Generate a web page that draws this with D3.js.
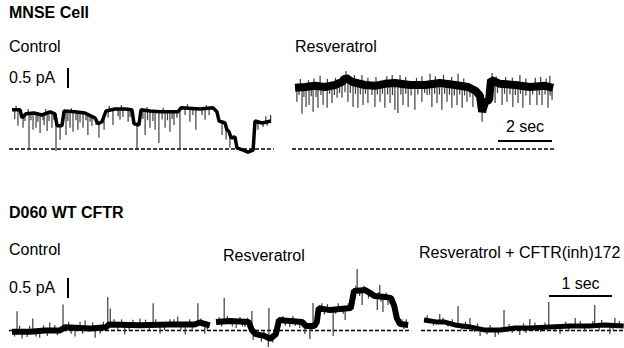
<!DOCTYPE html>
<html>
<head>
<meta charset="utf-8">
<script src="https://cdn.jsdelivr.net/npm/d3@7"></script>
<style>
  body { margin: 0; background: #fff; }
  text { font-family: "Liberation Sans", Arial, sans-serif; font-size: 16px; fill: #000; }
</style>
</head>
<body>
<div id="chart-area"></div>
<script>
// labels
const panelTitles = ["MNSE Cell", "D060 WT CFTR"];
const mnseConditions = ["Control", "Resveratrol"];
const d060Conditions = ["Control", "Resveratrol", "Resveratrol + CFTR(inh)172"];
const currentBarLabel = "0.5 pA";
const currentBarValue = 0.5;          // pA
const timeBarLabels = ["2 sec", "1 sec"];
const timeBarValues = [2, 1];         // s

// traces: [time (s), current (pA)] for the level, events are the brief excursions
const mnseControlLevels = [
  [0, 0.98], [0.30, 0.98], [0.37, 0.78], [0.52, 0.88], [0.81, 0.90], [1.11, 0.85],
  [1.41, 0.93], [1.59, 0.88], [1.67, 0.58], [1.85, 0.58], [1.93, 0.95], [2.33, 0.93],
  [2.70, 0.90], [3.07, 0.78], [3.19, 0.63], [3.33, 0.68], [3.48, 0.95], [3.81, 1.00],
  [4.19, 1.00], [4.44, 0.98], [4.52, 0.63], [4.70, 0.60], [4.78, 0.98], [5.11, 0.95],
  [5.48, 0.93], [5.85, 0.93], [6.15, 0.93], [6.26, 1.03], [6.96, 1.00], [7.44, 1.03],
  [7.59, 0.93], [7.67, 0.70], [7.89, 0.65], [7.96, 0.48], [8.04, 0.43], [8.11, 0.28],
  [8.26, 0.30], [8.33, 0.03], [8.56, -0.03], [8.74, -0.08], [8.93, -0.03], [9.00, 0.70],
  [9.26, 0.65], [9.59, 0.70]
];
const mnseControlEvents = [
  [0.22, 0.58], [0.41, 0.53], [0.63, -0.03], [0.78, 0.48], [0.89, 0.53], [1.04, 0.40],
  [1.19, 0.60], [1.30, 0.45], [1.48, 0.53], [1.63, -0.05], [1.78, 0.23], [2.00, 0.35],
  [2.15, 0.53], [2.26, 0.43], [2.44, 0.48], [2.63, 0.53], [2.81, 0.35], [2.96, 0.58],
  [3.22, 0.28], [3.41, 0.48], [3.74, 0.60], [4.00, 0.73], [4.30, 0.68], [4.63, -0.03],
  [4.93, 0.35], [5.11, 0.53], [5.30, 0.48], [5.44, 0.15], [5.67, 0.53], [5.85, 0.43],
  [6.00, 0.60], [6.22, -0.03], [6.59, 0.68], [6.81, 0.48], [7.15, 0.73], [7.78, 0.35],
  [7.93, 0.23], [8.07, 0.03], [9.11, 0.48],
  [0.10, 0.75], [0.48, 0.70], [0.70, 0.72], [0.96, 0.68], [1.15, 0.72], [1.37, 0.70],
  [1.55, 0.73], [1.89, 0.62], [2.07, 0.70], [2.37, 0.72], [2.52, 0.66], [2.74, 0.72],
  [2.89, 0.68], [3.11, 0.60], [3.56, 0.78], [3.93, 0.82], [4.11, 0.80], [4.37, 0.80],
  [4.85, 0.75], [5.02, 0.72], [5.22, 0.70], [5.56, 0.74], [5.76, 0.72], [5.93, 0.75],
  [6.11, 0.78], [6.41, 0.85], [6.70, 0.85], [7.04, 0.85], [7.30, 0.85], [9.30, 0.55],
  [9.45, 0.58],
  [0.15, 1.08], [0.60, 1.00], [1.25, 1.00], [2.20, 1.02], [3.60, 1.08], [4.05, 1.10],
  [5.00, 1.05], [5.60, 1.03], [6.50, 1.12], [7.20, 1.10], [9.40, 0.82], [9.58, 0.85]
];

const mnseResvLevels = [
  [0, 1.53], [0.37, 1.55], [0.74, 1.58], [1.11, 1.55], [1.48, 1.60], [1.74, 1.68],
  [1.89, 1.78], [2.11, 1.68], [2.59, 1.60], [2.96, 1.58], [3.33, 1.63], [3.70, 1.65],
  [4.26, 1.60], [4.81, 1.60], [5.37, 1.65], [5.93, 1.60], [6.41, 1.55], [6.70, 1.45],
  [6.85, 1.33], [6.93, 0.93], [7.04, 1.18], [7.19, 1.23], [7.26, 1.73], [7.59, 1.63],
  [8.15, 1.60], [8.70, 1.55], [9.26, 1.58], [9.56, 1.53]
];
const mnseResvEvents = [
  [0.07, 1.18], [0.26, 0.88], [0.41, 1.05], [0.52, 1.10], [0.67, 0.93], [0.85, 1.03],
  [1.04, 1.10], [1.19, 1.03], [1.37, 1.15], [1.56, 1.28], [1.74, 1.28], [1.96, 1.18],
  [2.15, 1.05], [2.33, 1.03], [2.52, 1.10], [2.70, 1.15], [2.96, 1.05], [3.15, 1.18],
  [3.33, 1.03], [3.52, 1.15], [3.70, 0.98], [3.81, 0.90], [4.00, 1.10], [4.19, 1.05],
  [4.44, 0.98], [4.70, 1.18], [4.89, 1.35], [5.07, 1.05], [5.26, 1.15], [5.44, 0.98],
  [5.63, 1.18], [5.81, 1.03], [6.00, 1.10], [6.19, 1.03], [6.37, 1.18], [6.59, 1.05],
  [6.93, 0.68], [7.41, 1.15], [7.67, 1.10], [7.85, 1.18], [8.07, 1.05], [8.26, 1.15],
  [8.44, 1.03], [8.70, 1.10], [8.96, 1.10], [9.15, 1.10], [9.37, 1.03], [9.52, 1.23],
  [0.93, 1.83], [1.89, 1.95], [2.48, 1.85], [3.89, 1.85], [5.00, 1.88], [6.04, 1.88],
  [7.30, 1.90], [8.33, 1.85], [9.44, 1.83],
  [0.15, 1.35], [0.33, 1.30], [0.60, 1.32], [0.78, 1.30], [0.96, 1.35], [1.28, 1.38],
  [1.46, 1.35], [1.65, 1.40], [1.85, 1.42], [2.05, 1.40], [2.24, 1.38], [2.42, 1.36],
  [2.61, 1.38], [2.85, 1.35], [3.05, 1.36], [3.24, 1.38], [3.43, 1.36], [3.61, 1.35],
  [3.92, 1.36], [4.10, 1.38], [4.30, 1.34], [4.55, 1.36], [4.80, 1.40], [4.98, 1.36],
  [5.17, 1.38], [5.35, 1.36], [5.54, 1.38], [5.72, 1.36], [5.90, 1.34], [6.10, 1.36],
  [6.28, 1.34], [6.48, 1.30], [7.50, 1.40], [7.76, 1.38], [7.96, 1.36], [8.16, 1.35],
  [8.35, 1.38], [8.55, 1.34], [8.80, 1.36], [9.05, 1.35], [9.26, 1.36], [9.45, 1.34],
  [0.20, 1.75], [0.50, 1.72], [0.70, 1.76], [1.20, 1.75], [1.50, 1.78], [1.70, 1.82],
  [2.20, 1.85], [2.70, 1.78], [3.00, 1.80], [3.40, 1.82], [3.60, 1.85], [4.10, 1.80],
  [4.50, 1.78], [4.70, 1.82], [5.20, 1.82], [5.50, 1.85], [5.80, 1.80], [6.25, 1.76],
  [7.45, 1.82], [7.80, 1.80], [8.05, 1.78], [8.55, 1.76], [8.90, 1.78], [9.10, 1.80],
  [9.30, 1.76]
];

const d060ControlLevels = [
  [0, -0.03], [0.29, -0.03], [0.52, 0.00], [0.76, 0.00], [0.84, 0.08], [1.24, 0.05],
  [1.49, 0.08], [1.54, 0.15], [2.03, 0.13], [2.51, 0.15], [2.90, 0.15], [2.98, 0.20],
  [3.14, 0.13]
];
const d060ControlEvents = [
  [0.08, 0.48], [0.33, 0.30], [0.81, 0.65], [1.52, 0.83], [1.56, 0.55], [2.24, 0.68],
  [2.63, 0.35], [2.95, 0.68],
  [0.16, -0.20], [0.44, -0.18], [1.00, -0.15], [1.32, -0.18], [1.79, -0.10], [2.35, -0.08],
  [2.75, -0.10], [3.06, -0.08], [0.60, 0.20], [1.16, 0.25], [2.03, 0.30], [2.51, 0.28],
  [0.04, -0.15], [0.12, 0.12], [0.24, -0.16], [0.28, 0.12], [0.38, -0.15], [0.50, 0.13],
  [0.56, -0.14], [0.68, 0.14], [0.72, -0.12], [0.90, 0.22], [0.94, -0.08], [1.08, 0.22],
  [1.12, -0.08], [1.28, 0.20], [1.40, -0.08], [1.45, 0.22], [1.62, 0.28], [1.68, 0.00],
  [1.74, 0.28], [1.86, 0.00], [1.92, 0.27], [2.12, 0.27], [2.18, 0.01], [2.28, 0.28],
  [2.42, 0.01], [2.57, 0.28], [2.68, 0.02], [2.82, 0.28], [2.86, 0.02], [3.00, 0.30],
  [3.10, 0.02]
];

const d060ResvLevels = [
  [0, 0.21], [0.22, 0.24], [0.52, 0.21], [0.57, 0.01], [0.63, -0.09], [0.78, -0.14],
  [0.86, -0.21], [0.95, -0.09], [1.00, 0.26], [1.17, 0.24], [1.37, 0.21], [1.43, 0.11],
  [1.56, 0.11], [1.60, 0.21], [1.63, 0.56], [1.81, 0.51], [1.97, 0.54], [2.14, 0.56],
  [2.19, 0.99], [2.37, 1.01], [2.52, 0.86], [2.68, 0.84], [2.78, 0.81], [2.83, 0.61],
  [2.87, 0.31], [2.92, 0.16], [3.05, 0.14]
];
const d060ResvEvents = [
  [0.13, 0.81], [0.57, 0.49], [0.84, 0.56], [1.54, 0.69], [2.24, 1.54], [2.60, 1.14],
  [2.84, 0.66], [0.59, -0.24], [0.83, -0.41], [1.41, -0.09], [1.49, -0.21], [1.86, -0.14],
  [2.32, 0.64], [2.56, 0.51], [2.65, 0.46], [2.73, 0.64], [0.32, 0.06], [0.46, 0.09],
  [1.17, 0.09], [1.33, 0.06], [2.05, 0.26],
  [0.05, 0.33], [0.09, 0.10], [0.18, 0.36], [0.26, 0.10], [0.38, 0.34], [0.42, 0.10],
  [0.50, 0.32], [0.66, 0.02], [0.72, -0.28], [0.76, 0.00], [0.90, -0.30], [0.92, 0.02],
  [1.06, 0.36], [1.10, 0.12], [1.22, 0.36], [1.26, 0.12], [1.40, 0.24], [1.52, 0.00],
  [1.58, 0.24], [1.68, 0.68], [1.72, 0.40], [1.77, 0.66], [1.90, 0.42], [1.94, 0.68],
  [2.02, 0.42], [2.10, 0.68], [2.22, 1.12], [2.28, 0.86], [2.35, 1.12], [2.42, 0.80],
  [2.48, 1.00], [2.58, 0.96], [2.62, 0.72], [2.70, 0.95], [2.76, 0.68], [2.95, 0.28],
  [2.98, 0.04], [3.02, 0.28]
];

const d060InhLevels = [
  [0, 0.26], [0.10, 0.24], [0.21, 0.21], [0.33, 0.21], [0.49, 0.14], [0.73, 0.09],
  [0.97, 0.01], [1.21, 0.01], [1.44, 0.06], [1.68, 0.06], [2.00, 0.09], [2.32, 0.11],
  [2.63, 0.11], [2.87, 0.14], [3.17, 0.11]
];
const d060InhEvents = [
  [0.54, 0.61], [1.27, 0.51], [1.98, 0.71], [2.71, 0.64], [0.25, 0.41],
  [0.89, -0.14], [1.13, -0.16], [1.52, -0.11], [2.16, -0.09], [2.95, -0.09],
  [0.73, 0.31], [1.68, 0.29], [2.40, 0.31], [3.03, 0.31],
  [0.05, 0.38], [0.15, 0.12], [0.30, 0.32], [0.38, 0.10], [0.45, 0.28], [0.60, 0.02],
  [0.66, 0.22], [0.80, -0.04], [0.85, 0.18], [1.00, -0.10], [1.05, 0.14], [1.18, -0.10],
  [1.35, 0.16], [1.40, -0.06], [1.58, 0.18], [1.62, -0.06], [1.76, 0.20], [1.85, -0.04],
  [1.92, 0.20], [2.08, -0.03], [2.25, 0.22], [2.30, -0.02], [2.48, 0.24], [2.55, -0.02],
  [2.68, 0.24], [2.78, 0.00], [2.82, 0.26], [3.00, 0.02], [3.10, 0.24]
];

// layout
const W = 624, H = 348;
const pxPerPA = 40;

const svg = d3.select("#chart-area")
  .append("svg")
  .attr("width", W)
  .attr("height", H);

const panels = [
  { title: panelTitles[0], titleY: 18, barLabelY: 83, barTop: 68, zeroY: 149, pxPerSec: 27,
    timeBar: { label: timeBarLabels[0], value: timeBarValues[0], x: 498, y: 141, textY: 132 },
    traces: [
      { name: mnseConditions[0], levels: mnseControlLevels, events: mnseControlEvents, x0: 12, labelX: 9, labelY: 52, band: 3.5 },
      { name: mnseConditions[1], levels: mnseResvLevels, events: mnseResvEvents, x0: 295, labelX: 295, labelY: 52, band: 8 }
    ] },
  { title: panelTitles[1], titleY: 218, barLabelY: 293, barTop: 278, zeroY: 330.5, pxPerSec: 63,
    timeBar: { label: timeBarLabels[1], value: timeBarValues[1], x: 549, y: 296, textY: 289 },
    traces: [
      { name: d060Conditions[0], levels: d060ControlLevels, events: d060ControlEvents, x0: 12, labelX: 9, labelY: 255, band: 6 },
      { name: d060Conditions[1], levels: d060ResvLevels, events: d060ResvEvents, x0: 216, labelX: 223, labelY: 261, band: 6 },
      { name: d060Conditions[2], levels: d060InhLevels, events: d060InhEvents, x0: 424, labelX: 419, labelY: 258, band: 5 }
    ] }
];

panels.forEach(p => {
  const g = svg.append("g");

  // panel title
  g.append("text")
    .attr("x", 9)
    .attr("y", p.titleY)
    .attr("font-weight", "bold")
    .text(p.title);

  // y scale shared by the panel, 0 pA = closed level
  const y = d3.scaleLinear()
    .domain([0, 1])
    .range([p.zeroY, p.zeroY - pxPerPA]);

  // current scale bar
  g.append("text")
    .attr("x", 9)
    .attr("y", p.barLabelY)
    .text(currentBarLabel);
  g.append("line")
    .attr("x1", 68).attr("x2", 68)
    .attr("y1", p.barTop)
    .attr("y2", p.barTop + (y(0) - y(currentBarValue)))
    .attr("stroke", "#000")
    .attr("stroke-width", 2);

  p.traces.forEach(tr => {
    const tEnd = tr.levels[tr.levels.length - 1][0];
    const x = d3.scaleLinear()
      .domain([0, tEnd])
      .range([tr.x0, tr.x0 + tEnd * p.pxPerSec]);

    g.append("text")
      .attr("x", tr.labelX)
      .attr("y", tr.labelY)
      .text(tr.name);

    // closed level
    g.append("line")
      .attr("x1", x(0) - 3).attr("x2", x(tEnd) + 3)
      .attr("y1", y(0)).attr("y2", y(0))
      .attr("stroke", "#000")
      .attr("stroke-width", 1.3)
      .attr("stroke-dasharray", "4,2");

    // level at a given time, to hang the brief events from
    const level = d3.scaleLinear()
      .domain(tr.levels.map(d => d[0]))
      .range(tr.levels.map(d => d[1]));

    g.selectAll(null)
      .data(tr.events)
      .enter()
      .append("line")
        .attr("x1", d => x(d[0]))
        .attr("x2", d => x(d[0]))
        .attr("y1", d => y(level(d[0])))
        .attr("y2", d => y(d[1]))
        .attr("stroke", "#3c3c3c")
        .attr("stroke-width", 1.2);

    const line = d3.line()
      .x(d => x(d[0]))
      .y(d => y(d[1]));

    g.append("path")
      .datum(tr.levels)
      .attr("d", line)
      .attr("fill", "none")
      .attr("stroke", "#000")
      .attr("stroke-width", tr.band)
      .attr("stroke-linejoin", "bevel");
  });

  // time scale bar
  const tb = p.timeBar;
  const len = tb.value * p.pxPerSec;
  g.append("line")
    .attr("x1", tb.x).attr("x2", tb.x + len)
    .attr("y1", tb.y).attr("y2", tb.y)
    .attr("stroke", "#000")
    .attr("stroke-width", 2);
  g.append("text")
    .attr("x", tb.x + len / 2)
    .attr("y", tb.textY)
    .attr("text-anchor", "middle")
    .text(tb.label);
});
</script>
</body>
</html>
